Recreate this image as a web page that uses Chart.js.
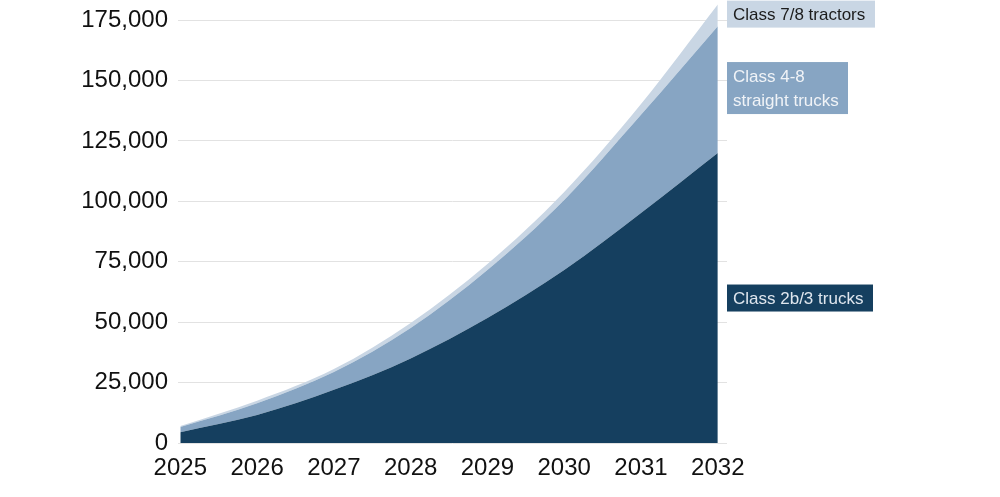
<!DOCTYPE html>
<html>
<head>
<meta charset="utf-8">
<script src="https://cdn.jsdelivr.net/npm/chart.js@4"></script>
<style>
  html, body { margin: 0; padding: 0; background: #fff; }
  #wrap { width: 1000px; height: 497px; }
</style>
</head>
<body>
<div id="wrap"><canvas id="c" width="1000" height="497"></canvas></div>
<script>
const years = [2025, 2026, 2027, 2028, 2029, 2030, 2031, 2032];
const class2b3 = [4500, 11600, 22000, 35000, 51700, 71600, 95200, 120000];
const class48straight = [2100, 4900, 7400, 12600, 19900, 29000, 40600, 52500];
const class78tractors = [400, 1000, 1200, 2100, 2500, 3300, 4500, 9000];
const yTicks = [0, 12500, 25000, 37500, 50000, 62500, 75000, 87500, 100000, 112500, 125000, 137500, 150000, 162500, 175000];
const seriesLabels = [['Class 2b/3 trucks'], ['Class 4-8', 'straight trucks'], ['Class 7/8 tractors']];

const colors = ['#153f5f', '#87a5c3', '#c9d6e4'];
const toPts = arr => years.map((y, i) => ({ x: y, y: arr[i] }));
const FONT = '"Liberation Sans", Arial, sans-serif';

const labelPlugin = {
  id: 'endLabels',
  afterDraw(chart, args, opts) {
    const ctx = chart.ctx;
    const ys = chart.scales.y;
    const left = chart.chartArea.right;
    opts.items.forEach(it => {
      const cy = ys.getPixelForValue(it.value);
      const lh = 24;
      const h = it.lines.length === 1 ? 27 : 52;
      ctx.save();
      ctx.fillStyle = it.bg;
      ctx.fillRect(left, cy - h / 2, it.w, h);
      ctx.fillStyle = it.fg;
      ctx.font = '17px ' + FONT;
      ctx.textBaseline = 'middle';
      const start = cy - (it.lines.length - 1) * lh / 2;
      it.lines.forEach((t, i) => ctx.fillText(t, left + 6, start + i * lh + 1));
      ctx.restore();
    });
  }
};

new Chart(document.getElementById('c'), {
  type: 'line',
  data: {
    datasets: [
      { label: seriesLabels[0].join(' '), data: toPts(class2b3), backgroundColor: colors[0], fill: 'origin' },
      { label: seriesLabels[1].join(' '), data: toPts(class48straight), backgroundColor: colors[1], fill: '-1' },
      { label: seriesLabels[2].join(' '), data: toPts(class78tractors), backgroundColor: colors[2], fill: '-1' }
    ].map(d => Object.assign(d, { borderWidth: 0, pointRadius: 0, cubicInterpolationMode: 'monotone' }))
  },
  options: {
    responsive: false,
    animation: false,
    layout: { padding: { left: 0, right: 273, top: 3, bottom: 0 } },
    plugins: {
      legend: { display: false },
      tooltip: { enabled: false },
      endLabels: {
        items: [
          { value: 177500, lines: seriesLabels[2], bg: '#c9d6e4', fg: '#1c1c1c', w: 148 },
          { value: 146900, lines: seriesLabels[1], bg: '#87a5c3', fg: '#f0f3f7', w: 121 },
          { value: 60000, lines: seriesLabels[0], bg: '#153f5f', fg: '#dfe6ee', w: 146 }
        ]
      }
    },
    scales: {
      x: {
        type: 'linear',
        min: 2024.97,
        max: 2032.12,
        afterBuildTicks: s => { s.ticks = years.map(v => ({ value: v })); },
        afterFit: s => { s.height = 54; s.paddingLeft = 0; s.paddingRight = 0; },
        grid: { display: false },
        border: { display: false },
        ticks: {
          color: '#111',
          padding: 3,
          maxRotation: 0,
          font: { family: FONT, size: 24 },
          callback: v => String(v)
        }
      },
      y: {
        stacked: true,
        min: 0,
        max: 182100,
        afterBuildTicks: s => { s.ticks = yTicks.map(v => ({ value: v })); },
        afterFit: s => { s.width = 178; s.paddingTop = 0; s.paddingBottom = 0; },
        border: { display: false },
        grid: {
          drawTicks: false,
          color: ctx => (ctx.tick && ctx.tick.value % 25000 === 0) ? '#e2e2e2' : '#f1f1f1',
          lineWidth: 1
        },
        ticks: {
          color: '#111',
          padding: 10,
          font: { family: FONT, size: 24 },
          callback: v => (v % 25000 === 0) ? v.toLocaleString('en-US') : ''
        }
      }
    }
  },
  plugins: [labelPlugin]
});
</script>
</body>
</html>
